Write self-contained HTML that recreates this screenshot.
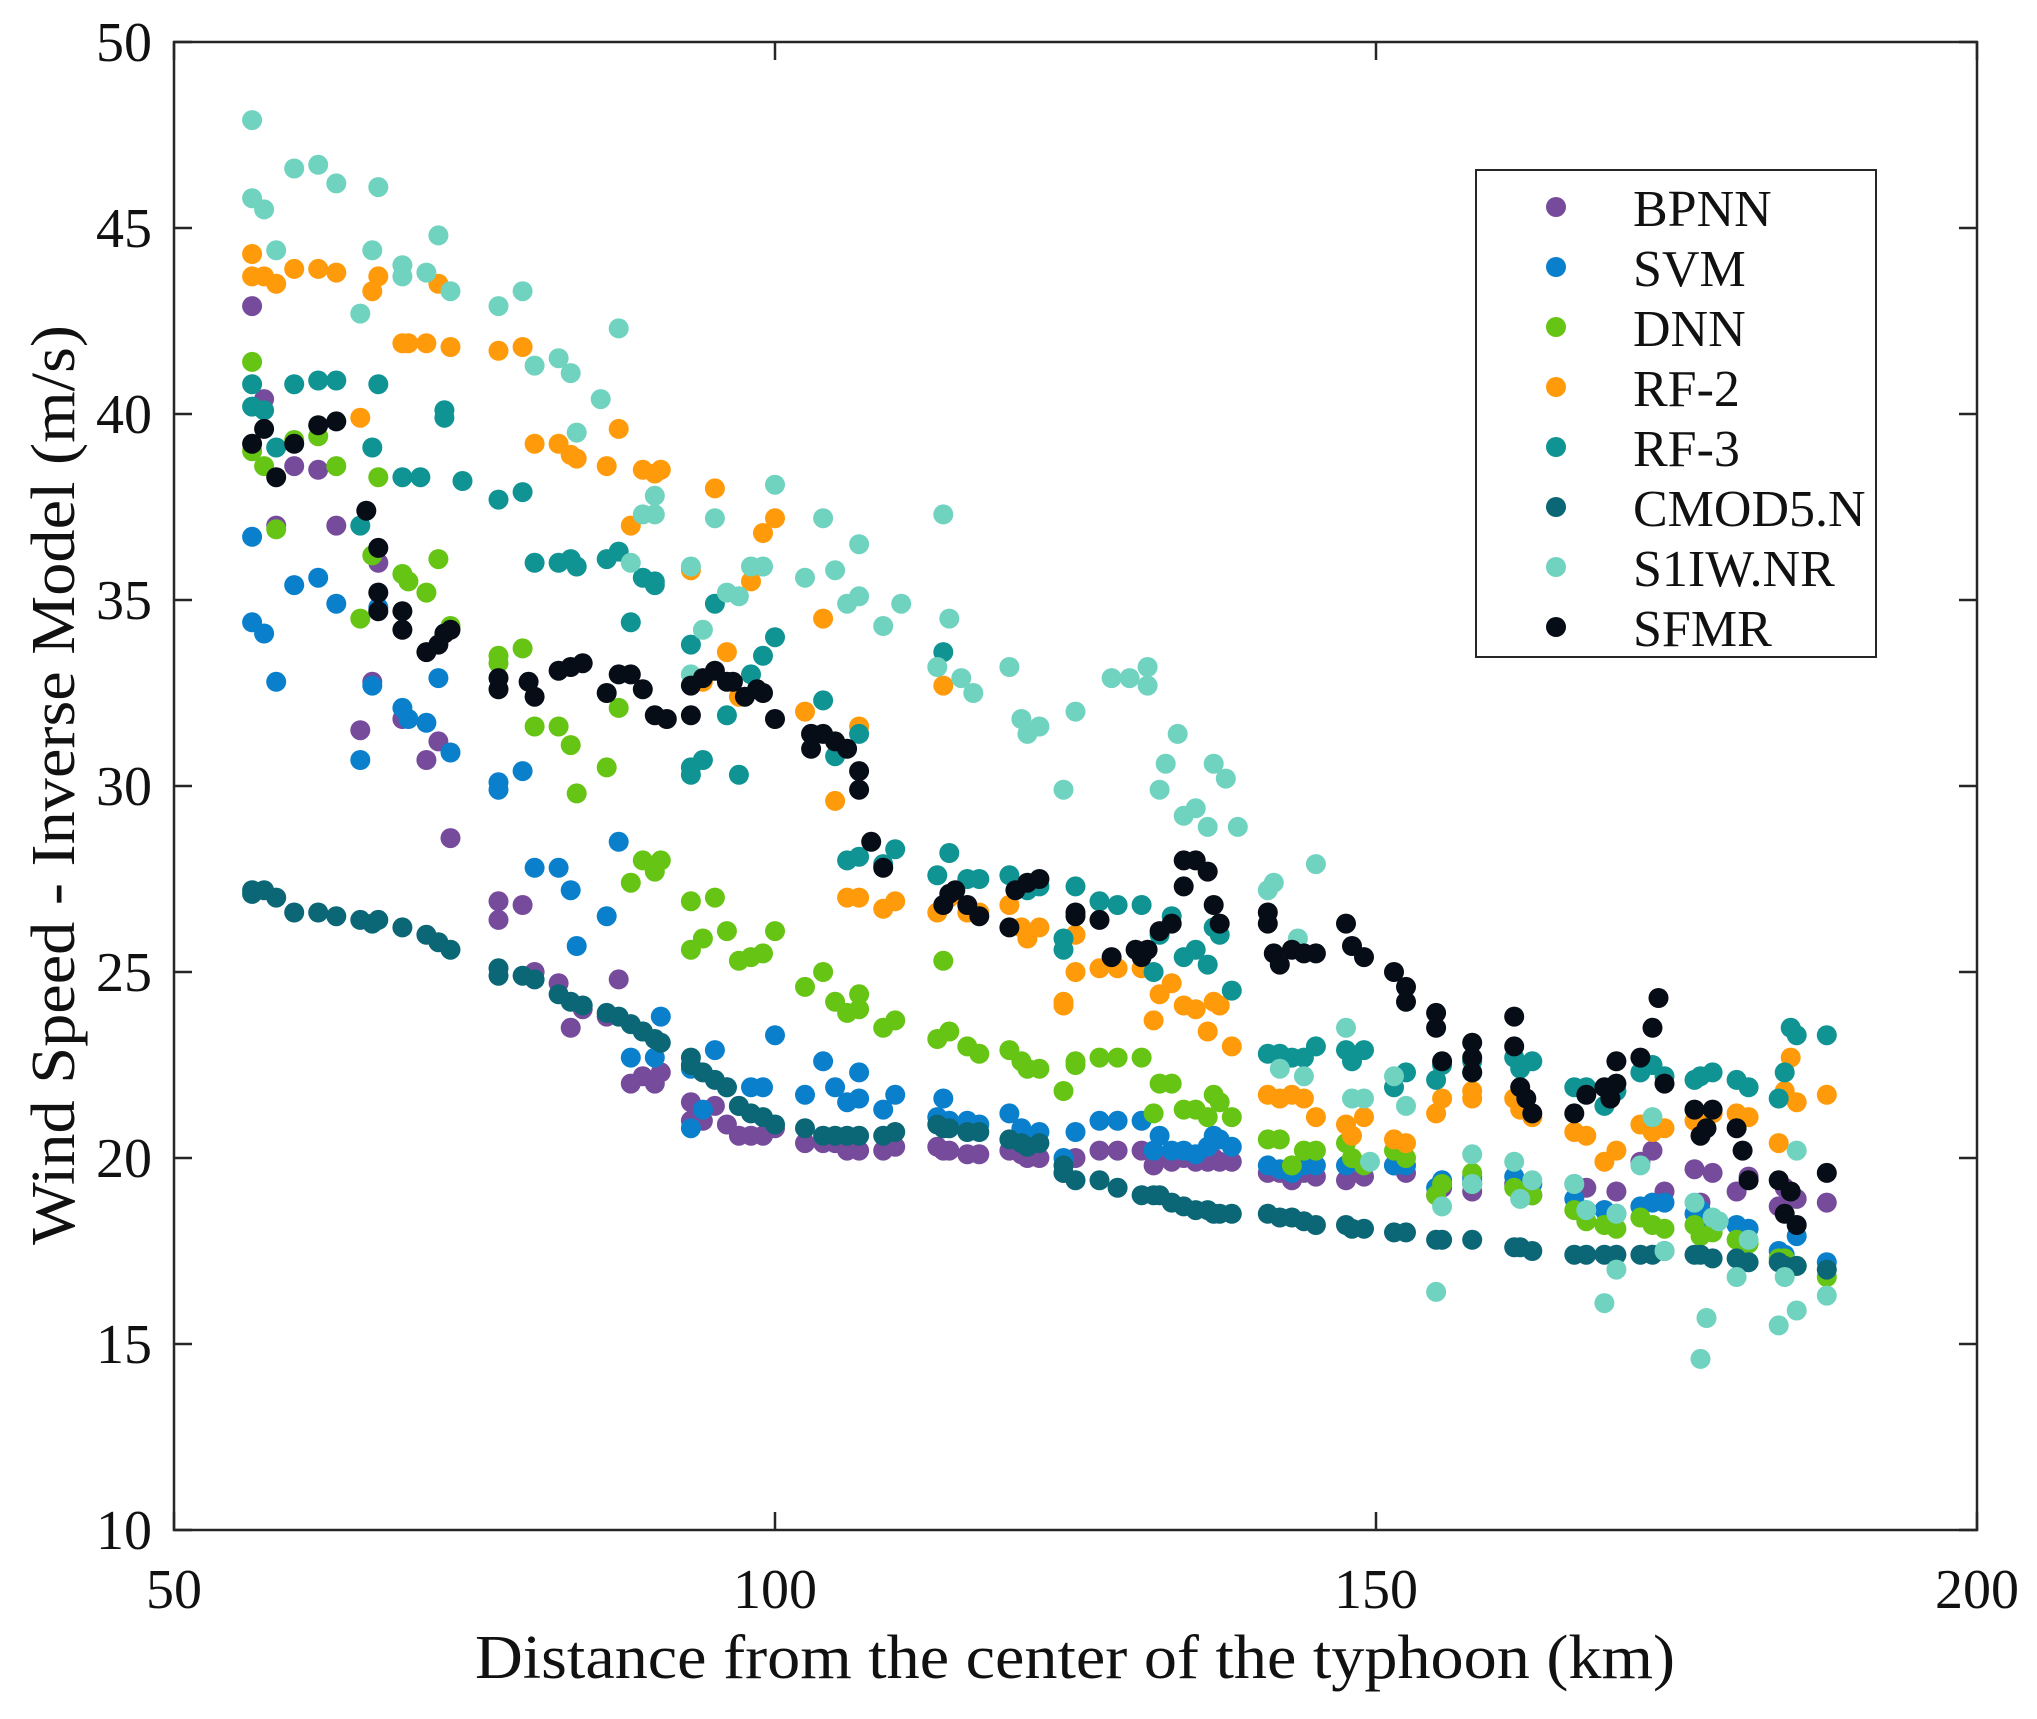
<!DOCTYPE html>
<html><head><meta charset="utf-8"><style>
html,body{margin:0;padding:0;background:#fff;}
svg{display:block;font-family:"Liberation Serif",serif;}
</style></head><body>
<svg id="chart" width="2037" height="1719" viewBox="0 0 2037 1719" xmlns="http://www.w3.org/2000/svg">
<rect width="2037" height="1719" fill="#fff"/>
<g id="marks"></g>
<g id="axes"></g>
<g id="legend"></g>
<text x="1075" y="1678" font-size="62" text-anchor="middle" textLength="1200" lengthAdjust="spacingAndGlyphs" fill="#111">Distance from the center of the typhoon (km)</text>
<text x="0" y="0" font-size="62" text-anchor="middle" textLength="920" lengthAdjust="spacingAndGlyphs" fill="#111" transform="translate(74,785) rotate(-90)">Wind Speed - Inverse Model (m/s)</text>
</svg>
<script>
const seriesNames = ["BPNN","SVM","DNN","RF-2","RF-3","CMOD5.N","S1IW.NR","SFMR"];
const seriesColors = ["#774b9c","#0a80cc","#66c414","#ff9a0a","#0f9393","#0b6676","#70d3bf","#070d16"];
const xTicks = [50,100,150,200];
const yTicks = [10,15,20,25,30,35,40,45,50];

const bpnn = [[56.5,42.9],[57.5,40.4],[58.5,37.0],[60,38.6],[62,38.5],[63.5,37.0],[65.5,31.5],[66.5,32.8],[67,36.0],[69,31.8],[71,30.7],[72,31.2],[73,28.6],[77,26.9],[77,26.4],[79,26.8],[80,25.0],[82,24.7],[83,23.5],[84,24.0],[86,23.8],[87,24.8],[88,22.0],[89,22.2],[90,22.0],[90.5,22.3],[93,21.5],[93,21.0],[94,21.0],[95,21.4],[96,20.9],[97,20.6],[98,20.6],[99,20.6],[100,20.8],[102.5,20.4],[104,20.4],[105,20.4],[106,20.2],[107,20.2],[109,20.2],[110,20.3],[113.5,20.3],[114,20.2],[114.5,20.2],[116,20.1],[117,20.1],[119.5,20.2],[120.5,20.1],[121,20.0],[122,20.0],[124,19.6],[125,20.0],[127,20.2],[128.5,20.2],[130.5,20.2],[131.5,19.8],[132,20.0],[133,19.9],[134,20.0],[135,19.9],[136,19.9],[136.5,20.0],[137,19.9],[138,19.9],[141,19.6],[142,19.6],[143,19.4],[144,19.6],[145,19.5],[147.5,19.4],[148,19.6],[149,19.5],[151.5,19.8],[152.5,19.6],[155,19.0],[155.5,19.2],[158,19.3],[158,19.1],[161.5,19.3],[162,19.0],[163,19.0],[166.5,19.3],[167.5,19.2],[169,18.6],[170,19.1],[172,19.9],[173,20.2],[174,19.1],[176.5,19.7],[177,18.8],[178,19.6],[180,19.1],[181,19.5],[183.5,18.7],[184,19.2],[185,18.9],[187.5,18.8]];
const svm = [[56.5,36.7],[56.5,34.4],[57.5,34.1],[58.5,32.8],[60,35.4],[62,35.6],[63.5,34.9],[65.5,30.7],[66.5,32.7],[67,34.8],[69,32.1],[69.5,31.8],[71,31.7],[72,32.9],[73,30.9],[77,30.1],[77,29.9],[79,30.4],[80,27.8],[82,27.8],[83,27.2],[83.5,25.7],[86,26.5],[87,28.5],[88,22.7],[89,23.4],[90,22.7],[90.5,23.8],[93,20.8],[93,22.4],[94,21.3],[95,22.9],[96,21.9],[97,21.4],[98,21.9],[99,21.9],[100,23.3],[102.5,21.7],[104,22.6],[105,21.9],[106,21.5],[107,22.3],[107,21.6],[109,21.3],[110,21.7],[113.5,21.1],[114,21.6],[114.5,21.0],[116,21.0],[117,20.9],[119.5,21.2],[120.5,20.8],[121,20.5],[122,20.7],[124,20.0],[125,20.7],[127,21.0],[128.5,21.0],[130.5,21.0],[131.5,20.2],[132,20.6],[133,20.2],[134,20.2],[135,20.1],[136,20.3],[136.5,20.6],[137,20.5],[138,20.3],[141,19.8],[142,19.7],[143,19.6],[144,19.8],[145,19.8],[147.5,19.8],[148,19.9],[149,19.8],[151.5,19.8],[152.5,19.8],[155,19.2],[155.5,19.4],[158,19.5],[158,19.4],[161.5,19.5],[162,19.2],[163,19.3],[166.5,18.9],[167.5,18.6],[169,18.6],[170,18.5],[172,18.7],[173,18.8],[174,18.8],[176.5,18.5],[177,18.6],[178,18.3],[180,18.2],[181,18.1],[183.5,17.5],[184,17.4],[185,17.9],[187.5,17.2]];
const dnn = [[56.5,41.4],[56.5,39.0],[57.5,38.6],[58.5,36.9],[60,39.3],[62,39.4],[63.5,38.6],[65.5,34.5],[66.5,36.2],[67,38.3],[69,35.7],[69.5,35.5],[71,35.2],[72,36.1],[73,34.3],[77,33.5],[77,33.3],[79,33.7],[80,31.6],[82,31.6],[83,31.1],[83.5,29.8],[86,30.5],[87,32.1],[88,27.4],[89,28.0],[90,27.7],[90.5,28.0],[93,25.6],[93,26.9],[94,25.9],[95,27.0],[96,26.1],[97,25.3],[98,25.4],[99,25.5],[100,26.1],[102.5,24.6],[104,25.0],[105,24.2],[106,23.9],[107,24.4],[107,24.0],[109,23.5],[110,23.7],[113.5,23.2],[114,25.3],[114.5,23.4],[116,23.0],[117,22.8],[119.5,22.9],[120.5,22.6],[121,22.4],[122,22.4],[124,21.8],[125,22.6],[125,22.5],[127,22.7],[128.5,22.7],[130.5,22.7],[131.5,21.2],[132,22.0],[133,22.0],[134,21.3],[135,21.3],[136,21.1],[136.5,21.7],[137,21.5],[138,21.1],[141,20.5],[142,20.5],[143,19.8],[144,20.2],[145,20.2],[147.5,20.4],[148,20.0],[149,19.8],[151.5,20.2],[152.5,20.0],[155,19.0],[155.5,19.3],[158,19.6],[158,19.3],[161.5,19.2],[162,19.0],[163,19.0],[166.5,18.6],[167.5,18.3],[169,18.2],[170,18.1],[172,18.4],[173,18.2],[174,18.1],[176.5,18.2],[177,17.9],[178,18.0],[180,17.8],[181,17.7],[183.5,17.3],[184,17.3],[185,17.1],[187.5,16.8]];
const rf2 = [[56.5,44.3],[56.5,43.7],[57.5,43.7],[58.5,43.5],[60,43.9],[62,43.9],[63.5,43.8],[65.5,39.9],[66.5,43.3],[67,43.7],[69,41.9],[69.5,41.9],[71,41.9],[72,43.5],[73,41.8],[77,41.7],[79,41.8],[80,39.2],[82,39.2],[83,38.9],[83.5,38.8],[86,38.6],[87,39.6],[88,37.0],[89,38.5],[90,38.4],[90.5,38.5],[93,35.8],[94,32.8],[95,38.0],[96,33.6],[97,32.4],[98,35.5],[99,36.8],[100,37.2],[102.5,32.0],[104,34.5],[105,29.6],[106,27.0],[107,31.6],[107,27.0],[109,26.7],[110,26.9],[113.5,26.6],[114,32.7],[114.5,27.0],[116,26.6],[117,26.6],[119.5,26.8],[120.5,26.2],[121,25.9],[122,26.2],[124,24.2],[124,24.1],[125,25.0],[125,26.0],[127,25.1],[128.5,25.1],[130.5,25.1],[131.5,23.7],[132,24.4],[133,24.7],[134,24.1],[135,24.0],[136,23.4],[136.5,24.2],[137,24.1],[138,23.0],[141,21.7],[142,21.6],[143,21.7],[144,21.6],[145,21.1],[147.5,20.9],[148,20.6],[149,21.1],[151.5,20.5],[152.5,20.4],[155,21.2],[155.5,21.6],[158,21.6],[158,21.8],[161.5,21.6],[162,21.3],[163,21.1],[166.5,20.7],[167.5,20.6],[169,19.9],[170,20.2],[172,20.9],[173,20.7],[174,20.8],[176.5,21.0],[177,21.1],[178,21.2],[180,21.2],[181,21.1],[183.5,20.4],[184,21.8],[184.5,22.7],[185,21.5],[187.5,21.7]];
const rf3 = [[56.5,40.8],[56.5,40.2],[57.5,40.1],[58.5,39.1],[60,40.8],[62,40.9],[63.5,40.9],[65.5,37.0],[66.5,39.1],[67,40.8],[69,38.3],[70.5,38.3],[72.5,40.1],[72.5,39.9],[74,38.2],[77,37.7],[79,37.9],[80,36.0],[82,36.0],[83,36.1],[83.5,35.9],[86,36.1],[87,36.3],[88,34.4],[89,35.6],[90,35.5],[90,35.4],[93,33.8],[93,30.5],[93,30.3],[94,30.7],[95,34.9],[96,31.9],[97,30.3],[98,33.0],[99,33.5],[100,34.0],[103,31.4],[104,32.3],[105,30.8],[106,28.0],[107,31.4],[107,28.1],[109,27.9],[110,28.3],[113.5,27.6],[114,33.6],[114.5,28.2],[116,27.5],[117,27.5],[119.5,27.6],[120.5,27.3],[121,27.2],[122,27.3],[124,25.9],[124,25.6],[125,27.3],[127,26.9],[128.5,26.8],[130.5,26.8],[131.5,25.0],[132,26.0],[133,26.5],[134,25.4],[135,25.6],[136,25.2],[136.5,26.2],[137,26.0],[138,24.5],[141,22.8],[142,22.8],[143,22.7],[144,22.7],[145,23.0],[147.5,22.9],[148,22.6],[149,22.9],[151.5,21.9],[152.5,22.3],[155,22.1],[155.5,22.5],[158,22.3],[158,22.6],[161.5,22.7],[162,22.4],[163,22.6],[166.5,21.9],[167.5,21.9],[169,21.4],[170,21.8],[172,22.3],[173,22.5],[174,22.2],[176.5,22.1],[177,22.2],[178,22.3],[180,22.1],[181,21.9],[183.5,21.6],[184,22.3],[184.5,23.5],[185,23.3],[187.5,23.3]];
const cmod = [[56.5,27.1],[56.5,27.2],[57.5,27.2],[58.5,27.0],[60,26.6],[62,26.6],[63.5,26.5],[65.5,26.4],[66.5,26.3],[67,26.4],[69,26.2],[71,26.0],[72,25.8],[73,25.6],[77,25.1],[77,24.9],[79,24.9],[80,24.8],[82,24.4],[83,24.2],[84,24.1],[86,23.9],[87,23.8],[88,23.6],[89,23.4],[90,23.2],[90.5,23.1],[93,22.7],[93,22.5],[94,22.3],[95,22.1],[96,21.9],[97,21.4],[98,21.2],[99,21.1],[100,20.9],[102.5,20.8],[104,20.6],[105,20.6],[106,20.6],[107,20.6],[109,20.6],[110,20.7],[113.5,20.9],[114,20.8],[114.5,20.8],[116,20.7],[117,20.7],[119.5,20.5],[120.5,20.4],[121,20.3],[122,20.4],[124,19.8],[124,19.6],[125,19.4],[127,19.4],[128.5,19.2],[130.5,19.0],[131.5,19.0],[132,19.0],[133,18.8],[134,18.7],[135,18.6],[136,18.6],[136.5,18.5],[137,18.5],[138,18.5],[141,18.5],[142,18.4],[143,18.4],[144,18.3],[145,18.2],[147.5,18.2],[148,18.1],[149,18.1],[151.5,18.0],[152.5,18.0],[155,17.8],[155.5,17.8],[158,17.8],[161.5,17.6],[162,17.6],[163,17.5],[166.5,17.4],[167.5,17.4],[169,17.4],[170,17.4],[172,17.4],[173,17.4],[174,17.5],[176.5,17.4],[177,17.4],[178,17.3],[180,17.3],[181,17.2],[183.5,17.2],[184,17.1],[185,17.1],[187.5,17.0]];
const s1iw = [[56.5,47.9],[56.5,45.8],[57.5,45.5],[58.5,44.4],[60,46.6],[62,46.7],[63.5,46.2],[65.5,42.7],[66.5,44.4],[67,46.1],[69,44.0],[69,43.7],[71,43.8],[72,44.8],[73,43.3],[77,42.9],[79,43.3],[80,41.3],[82,41.5],[83,41.1],[83.5,39.5],[85.5,40.4],[87,42.3],[88,36.0],[89,37.3],[90,37.3],[90,37.8],[93,35.9],[93,33.0],[94,34.2],[95,37.2],[96,35.2],[97,35.1],[98,35.9],[99,35.9],[100,38.1],[102.5,35.6],[104,37.2],[105,35.8],[106,34.9],[107,35.1],[107,36.5],[109,34.3],[110.5,34.9],[113.5,33.2],[114,37.3],[114.5,34.5],[115.5,32.9],[116.5,32.5],[119.5,33.2],[120.5,31.8],[121,31.4],[122,31.6],[124,29.9],[125,32.0],[128,32.9],[129.5,32.9],[131,33.2],[131,32.7],[132,29.9],[132.5,30.6],[133.5,31.4],[134,29.2],[135,29.4],[136,28.9],[136.5,30.6],[137.5,30.2],[138.5,28.9],[141,27.2],[141.5,27.4],[142,22.4],[143.5,25.9],[144,22.2],[145,27.9],[147.5,23.5],[148,21.6],[149,21.6],[149.5,19.9],[151.5,22.2],[152.5,21.4],[155,16.4],[155.5,18.7],[158,20.1],[158,19.3],[161.5,19.9],[162,18.9],[163,19.4],[166.5,19.3],[167.5,18.6],[169,16.1],[170,17.0],[170,18.5],[172,19.8],[173,21.1],[174,17.5],[176.5,18.8],[177,14.6],[177.5,15.7],[178,18.4],[178.5,18.3],[180,16.8],[181,17.8],[183.5,15.5],[184,16.8],[185,15.9],[185,20.2],[187.5,16.3]];
const sfmr = [[56.5,39.2],[57.5,39.6],[58.5,38.3],[60,39.2],[62,39.7],[63.5,39.8],[66,37.4],[67,36.4],[67,35.2],[67,34.7],[69,34.7],[69,34.2],[71,33.6],[72,33.8],[72.5,34.1],[73,34.2],[77,32.9],[77,32.6],[79.5,32.8],[80,32.4],[82,33.1],[83,33.2],[84,33.3],[86,32.5],[87,33.0],[88,33.0],[89,32.6],[90,31.9],[91,31.8],[93,32.7],[93,31.9],[94,32.9],[95,33.1],[96,32.8],[96.5,32.8],[97.5,32.4],[98.5,32.6],[99,32.5],[100,31.8],[103,31.0],[103,31.4],[104,31.4],[105,31.2],[106,31.0],[107,30.4],[107,29.9],[108,28.5],[109,27.8],[114,26.8],[114.5,27.1],[115,27.2],[116,26.8],[117,26.5],[119.5,26.2],[120,27.2],[121,27.4],[122,27.5],[125,26.5],[125,26.6],[127,26.4],[128,25.4],[130,25.6],[130.5,25.4],[131,25.6],[132,26.1],[133,26.3],[134,28.0],[134,27.3],[135,28.0],[136,27.7],[136.5,26.8],[137,26.3],[141,26.6],[141,26.3],[141.5,25.5],[142,25.2],[143,25.6],[144,25.5],[145,25.5],[147.5,26.3],[148,25.7],[149,25.4],[151.5,25.0],[152.5,24.6],[152.5,24.2],[155,23.9],[155,23.5],[155.5,22.6],[158,23.1],[158,22.7],[158,22.3],[161.5,23.8],[161.5,23.0],[162,21.9],[162.5,21.6],[163,21.2],[166.5,21.2],[167.5,21.7],[169,21.9],[169.5,21.6],[170,22.0],[170,22.6],[172,22.7],[173,23.5],[173.5,24.3],[174,22.0],[176.5,21.3],[177,20.6],[177.5,20.8],[178,21.3],[180,20.8],[180.5,20.2],[181,19.4],[183.5,19.4],[184,18.5],[184.5,19.1],[185,18.2],[187.5,19.6]];

const allSeries = [bpnn, svm, dnn, rf2, rf3, cmod, s1iw, sfmr];
const NS = "http://www.w3.org/2000/svg";
const L = 174, R = 1977, T = 42, B = 1530;
const X0 = 50, X1 = 200, Y0 = 10, Y1 = 50;
function xs(v){ return L + (v - X0) / (X1 - X0) * (R - L); }
function ys(v){ return B - (v - Y0) / (Y1 - Y0) * (B - T); }
function mk(tag, attrs){ const e = document.createElementNS(NS, tag); for (const k in attrs) e.setAttribute(k, attrs[k]); return e; }

const marks = document.getElementById('marks');
allSeries.forEach((s, si) => {
  const g = mk('g', {fill: seriesColors[si]});
  
  
  s.forEach(p => {
    const c = mk('circle', {cx: xs(p[0]).toFixed(1), cy: ys(p[1]).toFixed(1), r: 10});
    
    
    g.appendChild(c);
  });
  marks.appendChild(g);
});

const axes = document.getElementById('axes');
const box = mk('rect', {x: L, y: T, width: R - L, height: B - T, fill: 'none', stroke: '#262626', 'stroke-width': 2.5});


axes.appendChild(box);
const tl = 18;
xTicks.forEach(v => {
  const x = xs(v);
  axes.appendChild(mk('line', {x1: x, x2: x, y1: B, y2: B - tl, stroke: '#262626', 'stroke-width': 2.5}));
  axes.appendChild(mk('line', {x1: x, x2: x, y1: T, y2: T + tl, stroke: '#262626', 'stroke-width': 2.5}));
  const t = mk('text', {x: x, y: 1608, 'font-size': 56, 'text-anchor': 'middle', fill: '#111'});
  t.textContent = v;
  
  
  axes.appendChild(t);
});
yTicks.forEach(v => {
  const y = ys(v);
  axes.appendChild(mk('line', {x1: L, x2: L + tl, y1: y, y2: y, stroke: '#262626', 'stroke-width': 2.5}));
  axes.appendChild(mk('line', {x1: R, x2: R - tl, y1: y, y2: y, stroke: '#262626', 'stroke-width': 2.5}));
  const t = mk('text', {x: 152, y: y + 19, 'font-size': 56, 'text-anchor': 'end', fill: '#111'});
  t.textContent = v;
  
  
  axes.appendChild(t);
});

const legend = document.getElementById('legend');
const lb = mk('rect', {x: 1476, y: 170, width: 400, height: 487, fill: '#fff', stroke: '#262626', 'stroke-width': 2});


legend.appendChild(lb);
seriesNames.forEach((n, i) => {
  const y = 207 + i * 60;
  const g = mk('g', {});
  
  
  g.appendChild(mk('circle', {cx: 1556, cy: y, r: 10, fill: seriesColors[i]}));
  const t = mk('text', {x: 1633, y: y + 19, 'font-size': 52, fill: '#111'});
  t.textContent = n;
  g.appendChild(t);
  legend.appendChild(g);
});
</script>
</body></html>
